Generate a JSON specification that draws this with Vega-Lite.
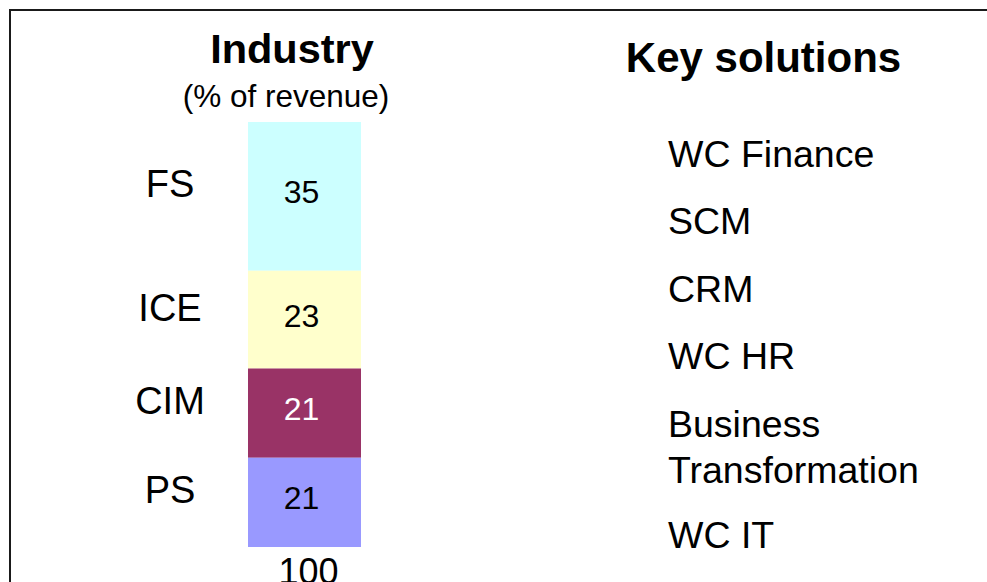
{
  "$schema": "https://vega.github.io/schema/vega-lite/v6.json",
  "width": 1007,
  "height": 602,
  "autosize": "none",
  "padding": {"left": 10, "top": 10, "right": -30, "bottom": -30},
  "background": "white",
  "config": {
    "view": {"stroke": "#1a1a1a", "strokeWidth": 2},
    "text": {"font": "Liberation Sans", "color": "black"}
  },
  "datasets": {
    "industry": [
      {"industry": "FS", "value": 35, "order": 1},
      {"industry": "ICE", "value": 23, "order": 2},
      {"industry": "CIM", "value": 21, "order": 3},
      {"industry": "PS", "value": 21, "order": 4}
    ],
    "solutions": [
      {"item": "WC Finance", "line": 1},
      {"item": "SCM", "line": 2},
      {"item": "CRM", "line": 3},
      {"item": "WC HR", "line": 4},
      {"item": "Business", "line": 5},
      {"item": "Transformation", "line": 5.68},
      {"item": "WC IT", "line": 6.64}
    ]
  },
  "layer": [
    {
      "data": {"name": "industry"},
      "layer": [
        {
          "transform": [{"stack": "value", "groupby": [], "sort": [{"field": "order", "order": "descending"}], "as": ["v0", "v1"]}],
          "mark": {"type": "bar"},
          "encoding": {
            "x": {"datum": "bar", "type": "nominal", "axis": null,
              "scale": {"type": "band", "domain": ["label", "bar"], "range": [103.5, 351], "paddingInner": 0.15985, "paddingOuter": 0}},
            "y": {"field": "v0", "type": "quantitative", "axis": null,
              "scale": {"domain": [-15.294, 126.353], "nice": false, "zero": false}},
            "y2": {"field": "v1"},
            "color": {"field": "industry", "type": "nominal", "legend": null,
              "scale": {"domain": ["FS", "ICE", "CIM", "PS"], "range": ["#CCFFFF", "#FFFFCC", "#993366", "#9999FF"]}}
          }
        },
        {
          "transform": [
            {"stack": "value", "groupby": [], "sort": [{"field": "order", "order": "descending"}], "as": ["v0", "v1"]},
            {"fold": ["v0", "v1"], "as": ["edge", "pos"]},
            {"aggregate": [{"op": "mean", "field": "pos", "as": "mid"}], "groupby": ["industry", "value"]}
          ],
          "layer": [
            {
              "mark": {"type": "text", "fontSize": 32, "dx": -3, "dy": -3, "align": "center", "baseline": "middle"},
              "encoding": {
                "x": {"datum": "bar", "type": "nominal"},
                "y": {"field": "mid", "type": "quantitative"},
                "text": {"field": "value", "type": "quantitative"},
                "color": {"condition": {"test": "datum.industry === 'CIM'", "value": "white"}, "value": "black"}
              }
            },
            {
              "mark": {"type": "text", "fontSize": 38, "dy": -10, "align": "center", "baseline": "middle"},
              "encoding": {
                "x": {"datum": "label", "type": "nominal"},
                "y": {"field": "mid", "type": "quantitative"},
                "text": {"field": "industry", "type": "nominal"}
              }
            }
          ]
        },
        {
          "transform": [{"aggregate": [{"op": "sum", "field": "value", "as": "total"}]}],
          "mark": {"type": "text", "fontSize": 36, "dx": 4, "dy": 26, "align": "center", "baseline": "middle"},
          "encoding": {
            "x": {"datum": "bar", "type": "nominal"},
            "y": {"datum": 0, "type": "quantitative"},
            "text": {"field": "total", "type": "quantitative"}
          }
        },
        {
          "data": {"values": [{"t": "Industry"}]},
          "mark": {"type": "text", "fontSize": 41.5, "fontWeight": "bold", "dx": -12.5, "align": "center", "baseline": "middle"},
          "encoding": {
            "x": {"datum": "bar", "type": "nominal"},
            "y": {"datum": 116.78, "type": "quantitative"},
            "text": {"field": "t"}
          }
        },
        {
          "data": {"values": [{"t": "(% of revenue)"}]},
          "mark": {"type": "text", "fontSize": 31.5, "dx": -18.5, "align": "center", "baseline": "middle"},
          "encoding": {
            "x": {"datum": "bar", "type": "nominal"},
            "y": {"datum": 105.69, "type": "quantitative"},
            "text": {"field": "t"}
          }
        },
        {
          "data": {"values": [{"t": "Key solutions"}]},
          "mark": {"type": "text", "fontSize": 42, "fontWeight": "bold", "dx": 459, "align": "center", "baseline": "middle"},
          "encoding": {
            "x": {"datum": "bar", "type": "nominal"},
            "y": {"datum": 114.8, "type": "quantitative"},
            "text": {"field": "t"}
          }
        }
      ]
    },
    {
      "data": {"name": "solutions"},
      "mark": {"type": "text", "fontSize": 37.5, "dx": 363.5, "align": "left", "baseline": "middle"},
      "encoding": {
        "x": {"datum": "bar", "type": "nominal"},
        "y": {"field": "line", "type": "quantitative", "axis": null,
          "scale": {"domain": [-1.1524, 7.753], "reverse": true, "nice": false, "zero": false}},
        "text": {"field": "item", "type": "nominal"}
      }
    }
  ],
  "resolve": {"scale": {"y": "independent"}}
}
